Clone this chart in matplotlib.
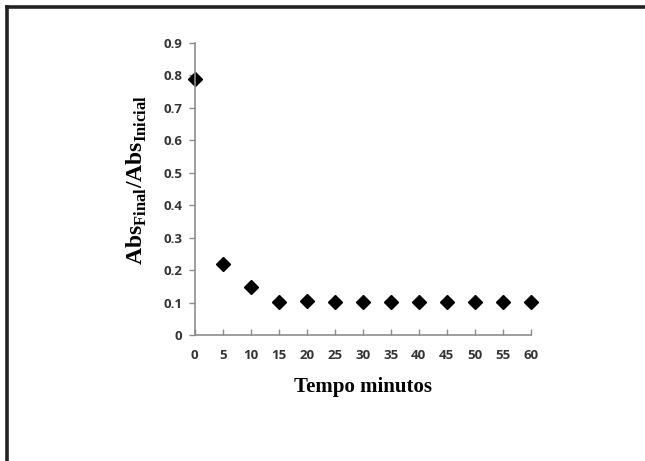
import matplotlib
matplotlib.use('Agg')
import matplotlib.pyplot as plt
from matplotlib.lines import Line2D

tempo = [0, 5, 10, 15, 20, 25, 30, 35, 40, 45, 50, 55, 60]
razao = [0.79, 0.22, 0.147, 0.103, 0.105, 0.103, 0.102, 0.103, 0.103, 0.102, 0.102, 0.103, 0.103]
yticks = [0, 0.1, 0.2, 0.3, 0.4, 0.5, 0.6, 0.7, 0.8, 0.9]
ylabels = ['0', '0.1', '0.2', '0.3', '0.4', '0.5', '0.6', '0.7', '0.8', '0.9']

plt.rcParams['mathtext.fontset'] = 'custom'
plt.rcParams['mathtext.rm'] = 'Liberation Serif:bold'
plt.rcParams['mathtext.bf'] = 'Liberation Serif:bold'

fig = plt.figure(figsize=(6.45, 4.61), dpi=100)
ax = fig.add_axes([0.302, 0.273, 0.521, 0.634])

ax.plot(tempo, razao, 'D', color='black', ms=6.8, clip_on=False)

ax.set_xlim(0, 60)
ax.set_ylim(0, 0.9)
ax.set_xticks(tempo)
ax.set_yticks(yticks)
ax.set_yticklabels(ylabels)

gray = '#8c8c8c'
for s in ['top', 'right']:
    ax.spines[s].set_visible(False)
for s in ['left', 'bottom']:
    ax.spines[s].set_color(gray)
    ax.spines[s].set_linewidth(1.2)

ax.tick_params(axis='x', direction='in', length=4, color=gray, width=1, pad=10,
               labelsize=9.5, labelcolor='#333333')
ax.tick_params(axis='y', direction='out', length=4, color=gray, width=1, pad=5,
               labelsize=9.5, labelcolor='#333333')
for lab in ax.get_xticklabels() + ax.get_yticklabels():
    lab.set_family('Open Sans')
    lab.set_fontweight('bold')

ax.set_xlabel('Tempo minutos', family='Liberation Serif', fontweight='bold',
              fontsize=15, labelpad=11)
ax.set_ylabel(r'Abs$_{\mathrm{Final}}$/Abs$_{\mathrm{Inicial}}$', family='Liberation Serif',
              fontweight='bold', fontsize=17)
ax.yaxis.set_label_coords(-0.135, 0.53)

# moldura preta (topo e esquerda)
fig.add_artist(Line2D([0.0116, 1.0], [0.985, 0.985], color='#222222', lw=2.6,
                      solid_capstyle='projecting', transform=fig.transFigure))
fig.add_artist(Line2D([0.0116, 0.0116], [0.985, 0.0], color='#222222', lw=2.6,
                      solid_capstyle='projecting', transform=fig.transFigure))

fig.savefig('out.png', dpi=100)
